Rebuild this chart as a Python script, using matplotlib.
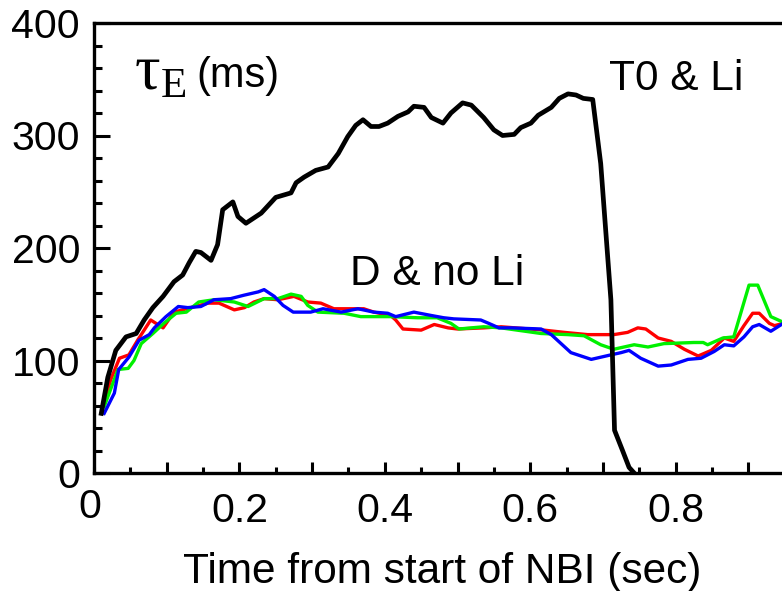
import matplotlib.pyplot as plt
from matplotlib.ticker import MultipleLocator, FixedLocator, FixedFormatter

plt.rcParams['font.family'] = ['Liberation Sans', 'DejaVu Sans']

# T0 & Li shot (black)
t_t0 = [0.010, 0.019, 0.030, 0.044, 0.058, 0.069, 0.081, 0.095, 0.110, 0.122,
        0.131, 0.140, 0.147, 0.161, 0.170, 0.177, 0.191, 0.198, 0.209, 0.230,
        0.250, 0.271, 0.278, 0.289, 0.305, 0.322, 0.336, 0.349, 0.360, 0.370,
        0.381, 0.392, 0.404, 0.418, 0.432, 0.440, 0.454, 0.464, 0.480, 0.491,
        0.507, 0.519, 0.536, 0.550, 0.562, 0.578, 0.587, 0.601, 0.611, 0.629,
        0.640, 0.652, 0.663, 0.673, 0.686, 0.697, 0.711, 0.716, 0.727, 0.736,
        0.743]
tau_t0 = [53, 85, 109, 121, 124, 136, 147, 157, 170, 176,
          187, 197, 196, 189, 203, 234, 241, 228, 222, 231,
          245, 249, 258, 263, 269, 272, 284, 299, 309, 314,
          308, 308, 311, 317, 321, 326, 325, 316, 311, 320,
          329, 327, 316, 305, 300, 301, 307, 311, 318, 325,
          333, 337, 336, 333, 332, 275, 154, 38, 20, 5,
          0]

# D & no Li shots
t_red = [0.012, 0.023, 0.035, 0.048, 0.060, 0.078, 0.095, 0.110, 0.133, 0.157,
         0.172, 0.193, 0.207, 0.220, 0.234, 0.253, 0.275, 0.294, 0.312, 0.330,
         0.371, 0.385, 0.408, 0.415, 0.425, 0.450, 0.468, 0.487, 0.500, 0.536,
         0.560, 0.619, 0.647, 0.679, 0.715, 0.734, 0.748, 0.759, 0.776, 0.794,
         0.812, 0.831, 0.849, 0.867, 0.880, 0.894, 0.906, 0.915, 0.929, 0.936,
         0.948]
tau_red = [59, 83, 102, 105, 118, 136, 129, 143, 147, 151,
           151, 145, 147, 152, 155, 154, 157, 152, 151, 146,
           146, 143, 140, 136, 128, 127, 132, 129, 128, 129,
           130, 127, 125, 123, 123, 125, 129, 128, 120, 117,
           110, 104, 109, 120, 117, 131, 142, 142, 133, 131,
           133]

t_green = [0.014, 0.033, 0.047, 0.055, 0.065, 0.081, 0.096, 0.113, 0.127, 0.144,
           0.165, 0.193, 0.212, 0.234, 0.253, 0.271, 0.285, 0.294, 0.308, 0.344,
           0.367, 0.408, 0.445, 0.472, 0.491, 0.502, 0.536, 0.560, 0.615, 0.652,
           0.674, 0.697, 0.715, 0.729, 0.743, 0.762, 0.784, 0.825, 0.838, 0.844,
           0.865, 0.880, 0.901, 0.913, 0.931, 0.948]
tau_green = [59, 92, 93, 100, 115, 124, 133, 142, 143, 152,
             154, 152, 148, 155, 155, 159, 157, 149, 143, 142,
             139, 139, 138, 138, 133, 128, 130, 129, 124, 123,
             122, 114, 110, 112, 114, 112, 115, 116, 116, 114,
             120, 121, 167, 167, 139, 134]

t_blue = [0.014, 0.028, 0.034, 0.048, 0.062, 0.076, 0.083, 0.099, 0.116, 0.129,
          0.147, 0.165, 0.188, 0.206, 0.226, 0.234, 0.248, 0.260, 0.274, 0.298,
          0.315, 0.340, 0.363, 0.385, 0.404, 0.415, 0.440, 0.464, 0.481, 0.495,
          0.532, 0.543, 0.557, 0.574, 0.615, 0.629, 0.656, 0.684, 0.711, 0.725,
          0.736, 0.752, 0.776, 0.794, 0.817, 0.835, 0.853, 0.867, 0.880, 0.894,
          0.906, 0.915, 0.931, 0.948]
tau_blue = [53, 71, 92, 103, 118, 123, 129, 139, 148, 147,
            148, 154, 155, 158, 161, 163, 157, 149, 143, 143,
            146, 143, 146, 143, 142, 139, 143, 140, 138, 137,
            136, 133, 129, 129, 128, 123, 107, 101, 105, 107,
            109, 102, 95, 96, 101, 102, 108, 114, 113, 121,
            130, 132, 126, 133]

x_major = [0.1, 0.2, 0.3, 0.4, 0.5, 0.6, 0.7, 0.8, 0.9]
x_labels = ['', '0.2', '', '0.4', '', '0.6', '', '0.8', '']

fig = plt.figure(figsize=(7.82, 5.91), dpi=100)
ax = fig.add_axes([94 / 782, 118 / 591, 688 / 782, 450 / 591])

ax.plot(t_red, tau_red, color='#ff0000', lw=2.4, solid_joinstyle='round')
ax.plot(t_green, tau_green, color='#00f000', lw=2.4, solid_joinstyle='round')
ax.plot(t_blue, tau_blue, color='#0000ff', lw=2.4, solid_joinstyle='round')
ax.plot(t_t0, tau_t0, color='black', lw=3.4, solid_joinstyle='round')

ax.set_xlim(0, 688 / 727)
ax.set_ylim(0, 400)

ax.xaxis.set_major_locator(FixedLocator(x_major))
ax.xaxis.set_major_formatter(FixedFormatter(x_labels))
ax.xaxis.set_minor_locator(MultipleLocator(0.05))
ax.yaxis.set_major_locator(MultipleLocator(100))
ax.yaxis.set_minor_locator(MultipleLocator(20))

ax.tick_params(which='both', direction='in', top=False, right=False,
               width=2.2, labelsize=29.5)
ax.tick_params(axis='y', which='major', length=11.5, pad=10)
ax.tick_params(axis='y', which='minor', length=5.5)
ax.tick_params(axis='x', which='major', length=8, pad=14)
ax.tick_params(axis='x', which='minor', length=4.3)

for side in ['left', 'bottom', 'top']:
    ax.spines[side].set_linewidth(2.4)
ax.spines['right'].set_visible(False)

# the origin label sits a little left of and above the others
ax.text(-0.006, -0.033, '0', transform=ax.get_xaxis_transform(),
        ha='center', va='top', fontsize=29.5)

ax.set_xlabel('Time from start of NBI (sec)', fontsize=30.5)
ax.xaxis.set_label_coords(0.506, -0.175)

serif = ['Liberation Serif', 'DejaVu Serif']
ax.text(0.056, 342, '\u03c4', family=serif, fontsize=46, va='baseline')
ax.text(0.092, 334, 'E', family=serif, fontsize=31, va='baseline')
ax.text(0.141, 343, '(ms)', fontsize=30, va='baseline')
ax.text(0.709, 340, 'T0 & Li', fontsize=30.5, va='baseline')
ax.text(0.352, 167, 'D & no Li', fontsize=30.5, va='baseline')

plt.savefig('out.png', dpi=100)
